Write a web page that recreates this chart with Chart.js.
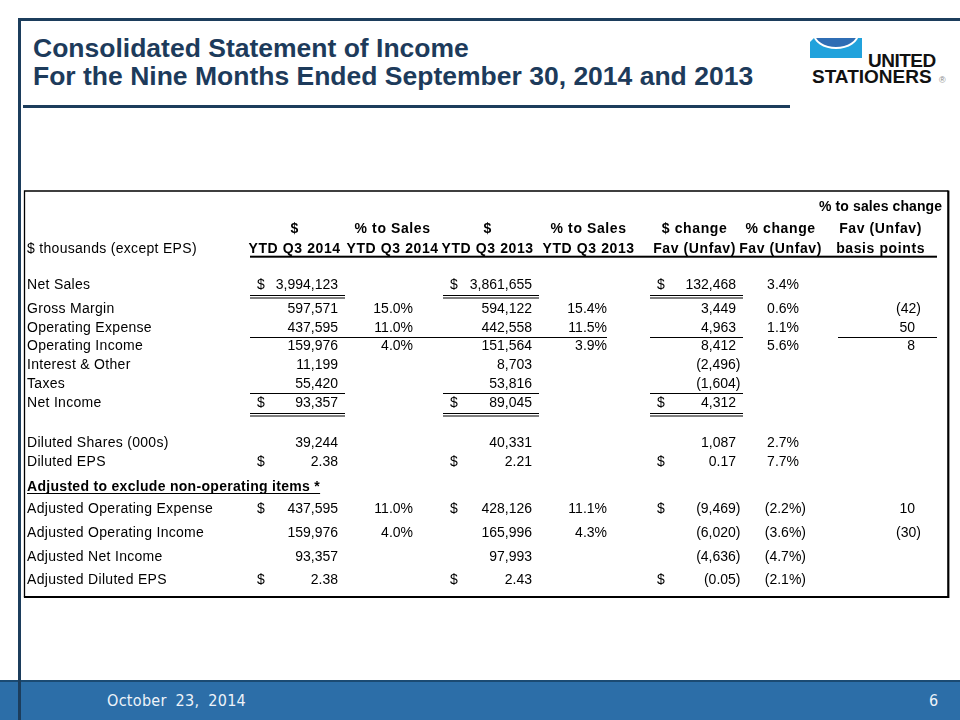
<!DOCTYPE html>
<html>
<head>
<meta charset="utf-8">
<script src="https://cdn.jsdelivr.net/npm/chart.js@4.4.1/dist/chart.umd.min.js"></script>
<style>
html,body{margin:0;padding:0;background:#fff;}
#slide{position:relative;width:960px;height:720px;overflow:hidden;background:#fff;font-family:"Liberation Sans",Arial,sans-serif;}
.navy{position:absolute;background:#1c3d5c;}
#title{position:absolute;left:33px;top:34px;font-weight:bold;font-size:26.5px;line-height:28px;color:#1d3b5b;white-space:nowrap;}
#footer{position:absolute;left:0;top:680px;width:960px;height:40px;background:#2c6ea8;border-top:2px solid #1b4a72;box-sizing:border-box;}
.ftxt{position:absolute;top:693px;font-family:"Liberation Sans Narrow","DejaVu Sans Condensed",sans-serif;font-stretch:condensed;font-size:16px;line-height:16px;color:#eef3f9;white-space:nowrap;}
.cy{position:absolute;left:810px;top:38px;width:52px;height:20px;background:#21a2dc;overflow:hidden;clip-path:polygon(4px 0,100% 0,100% 100%,0 100%,0 4px);}
.bowl{position:absolute;left:3px;top:-20px;width:42px;height:27px;border:2px solid #fff;border-radius:50%;background:#2f6db4;}
.logotxt{position:absolute;font-weight:bold;font-size:19px;line-height:19px;color:#111;white-space:nowrap;}
#cv{position:absolute;left:0;top:0;width:960px;height:720px;}
</style>
</head>
<body>
<div id="slide">
  <div class="navy" style="left:18px;top:18px;width:942px;height:3px;"></div>
  <div class="navy" style="left:23px;top:105px;width:767px;height:3px;"></div>
  <div id="title">Consolidated Statement of Income<br>For the Nine Months Ended September 30, 2014 and 2013</div>
  <div class="cy"><div class="bowl"></div></div>
  <div class="logotxt" style="left:868px;top:51px;letter-spacing:-0.5px;">UNITED</div>
  <div class="logotxt" style="left:812px;top:67px;">STATIONERS</div>
  <div class="logotxt" style="left:939px;top:76px;font-size:9px;line-height:9px;color:#888;font-weight:normal;">&reg;</div>
  <div id="footer"></div>
  <div class="ftxt" style="left:107px;letter-spacing:0.3px;word-spacing:4px;">October 23, 2014</div>
  <div class="ftxt" style="left:929px;">6</div>
  <div class="navy" style="left:18px;top:18px;width:3px;height:702px;"></div>
  <canvas id="cv" width="960" height="720"></canvas>
</div>
<script>
// ---------- DATA ----------
const colKeys = ['c1', 'c2', 'c3', 'c4', 'c5', 'c6', 'c7'];
const headerTop = ['', '', '', '', '', '', '% to sales change'];
const headerMid = ['$', '% to Sales', '$', '% to Sales', '$ change', '% change', 'Fav (Unfav)'];
const headerLow = ['YTD Q3 2014', 'YTD Q3 2014', 'YTD Q3 2013', 'YTD Q3 2013', 'Fav (Unfav)', 'Fav (Unfav)', 'basis points'];
const unitsLabel = '$ thousands (except EPS)';
const rowLabels = ['Net Sales', 'Gross Margin', 'Operating Expense', 'Operating Income', 'Interest & Other', 'Taxes', 'Net Income',
  'Diluted Shares (000s)', 'Diluted EPS',
  'Adjusted Operating Expense', 'Adjusted Operating Income', 'Adjusted Net Income', 'Adjusted Diluted EPS'];
const sectionTitle = 'Adjusted to exclude non-operating items *';
const ytd2014 = [3994123, 597571, 437595, 159976, 11199, 55420, 93357, 39244, 2.38, 437595, 159976, 93357, 2.38];
const pctSales2014 = [null, 15.0, 11.0, 4.0, null, null, null, null, null, 11.0, 4.0, null, null];
const ytd2013 = [3861655, 594122, 442558, 151564, 8703, 53816, 89045, 40331, 2.21, 428126, 165996, 97993, 2.43];
const pctSales2013 = [null, 15.4, 11.5, 3.9, null, null, null, null, null, 11.1, 4.3, null, null];
const dollarChange = [132468, 3449, 4963, 8412, -2496, -1604, 4312, 1087, 0.17, -9469, -6020, -4636, -0.05];
const pctChange = [3.4, 0.6, 1.1, 5.6, null, null, null, 2.7, 7.7, -2.2, -3.6, -4.7, -2.1];
const bpsChange = [null, -42, 50, 8, null, null, null, null, null, 10, -30, null, null];
const dollarSignRows = ['Net Sales', 'Net Income', 'Diluted EPS', 'Adjusted Operating Expense', 'Adjusted Diluted EPS'];
const perShareRows = ['Diluted EPS', 'Adjusted Diluted EPS'];
const columnKinds = ['usd', 'pct', 'usd', 'pct', 'usd', 'pct', 'bps'];
const series = [ytd2014, pctSales2014, ytd2013, pctSales2013, dollarChange, pctChange, bpsChange];

// ---------- STYLE / LAYOUT ----------
const STYLE = {
  font: '"Liberation Sans", Arial, sans-serif',
  pad: {left: 245.6, right: 28.4, top: 192, bottom: 122},
  rowPitch: [14, 22, 20, 18, 18, 23.5, 19, 18.5, 19, 19, 19, 20, 20, 19, 24.5, 22.5, 24, 23.5, 23.5],
  rowTail: 19,
  headerGrid: [0, 1, 2],
  headerSpacing: ['0.1px', '0.6px', '0.6px'],
  rowGrid: [4, 5, 6, 7, 8, 9, 10, 12, 13, 15, 16, 17, 18],
  sectionGrid: 14,
  colNudge: [0, 0, -3, 0, 8, -4, -2],
  valueRight: [43.4, 20.4, 44.4, 18.4, 41.4, 18.4, 34.4],
  parenShift: [4.5, 7, 4.5, 7, 4.5, 7, 6],
  dollarLeft: -37.6,
  colBounds: [[-44.6, 50.4], [-44.6, 50.4], [-44.6, 51.4], [-44.6, 18.4], [-44.6, 48.4], [-44.6, 50], [-42.6, 56.4]],
  labelX: 27,
  frame: {l: 24.5, t: 191, r: 948.3, b: 597},
  rules: [
    {grid: 2, spans: [[0, 6]], off: 8.7, w: 2},
    {grid: 4, spans: [[0, 0], [2, 2], [4, 4]], off: 10.5, dbl: true},
    {grid: 6, spans: [[0, 3], [4, 4], [6, 6]], off: 10.7},
    {grid: 9, spans: [[0, 0], [2, 2], [4, 4]], off: 10.3},
    {grid: 10, spans: [[0, 0], [2, 2], [4, 4]], off: 10.7, dbl: true}
  ]
};
const gridPos = [];
STYLE.rowPitch.reduce((acc, p) => { const v = acc + p; gridPos.push(v); return v; }, 0);
const yMax = gridPos[gridPos.length - 1] + STYLE.rowTail;

function fmtNum(v, dec) {
  const s = Math.abs(v).toLocaleString('en-US', {minimumFractionDigits: dec, maximumFractionDigits: dec});
  return v < 0 ? '(' + s + ')' : s;
}
function fmtPct(v) {
  const s = Math.abs(v).toFixed(1) + '%';
  return v < 0 ? '(' + s + ')' : s;
}

const datasets = series.map((vals, c) => ({
  label: colKeys[c],
  data: vals.map((v, r) => v == null ? null : {x: colKeys[c], y: gridPos[STYLE.rowGrid[r]], r: r}).filter(p => p),
  pointRadius: 0,
  showLine: false
}));

function setSpacing(ctx, s) { if ('letterSpacing' in ctx) ctx.letterSpacing = s; }

const tablePlugin = {
  id: 'tableCells',
  afterDatasetsDraw(chart) {
    const ctx = chart.ctx, xs = chart.scales.x, ys = chart.scales.y;
    const anchor = c => xs.getPixelForValue(c) + STYLE.colNudge[c];
    const rowY = g => ys.getPixelForValue(gridPos[g]);
    ctx.save();
    ctx.fillStyle = '#000';
    ctx.textBaseline = 'alphabetic';

    // frame
    const f = STYLE.frame;
    ctx.strokeStyle = '#000';
    ctx.lineWidth = 1.3;
    ctx.beginPath();
    ctx.moveTo(f.l, f.b); ctx.lineTo(f.l, f.t); ctx.lineTo(f.r, f.t);
    ctx.stroke();
    ctx.lineWidth = 2.2;
    ctx.beginPath();
    ctx.moveTo(f.r, f.t - 0.6); ctx.lineTo(f.r, f.b); ctx.lineTo(f.l - 0.6, f.b);
    ctx.stroke();

    // headers
    ctx.font = 'bold 14px ' + STYLE.font;
    ctx.textAlign = 'center';
    [headerTop, headerMid, headerLow].forEach((row, k) => {
      setSpacing(ctx, STYLE.headerSpacing[k]);
      const y = rowY(STYLE.headerGrid[k]) + 5;
      row.forEach((t, c) => { if (t) ctx.fillText(t, anchor(c), y); });
    });
    ctx.font = '14px ' + STYLE.font;
    setSpacing(ctx, '0.3px');
    ctx.textAlign = 'left';
    ctx.fillText(unitsLabel, STYLE.labelX, rowY(STYLE.headerGrid[2]) + 5);

    // row labels
    rowLabels.forEach((t, r) => ctx.fillText(t, STYLE.labelX, rowY(STYLE.rowGrid[r]) + 5));

    // section title (bold underlined)
    ctx.font = 'bold 14px ' + STYLE.font;
    const sy = rowY(STYLE.sectionGrid);
    ctx.fillText(sectionTitle, STYLE.labelX, sy + 5);
    const sw = ctx.measureText(sectionTitle).width;
    ctx.fillRect(STYLE.labelX, Math.round(sy + 7), sw, 1);

    // cells
    ctx.font = '14px ' + STYLE.font;
    setSpacing(ctx, '0px');
    chart.data.datasets.forEach((ds, c) => {
      const meta = chart.getDatasetMeta(c);
      const kind = columnKinds[c];
      meta.data.forEach((el, j) => {
        const p = ds.data[j];
        const v = series[c][p.r];
        const name = rowLabels[p.r];
        let txt;
        if (kind === 'usd') txt = fmtNum(v, perShareRows.includes(name) ? 2 : 0);
        else if (kind === 'pct') txt = fmtPct(v);
        else txt = fmtNum(v, 0);
        const ax = el.x + STYLE.colNudge[c];
        const y = el.y + 5;
        ctx.textAlign = 'right';
        ctx.fillText(txt, ax + STYLE.valueRight[c] + (v < 0 ? STYLE.parenShift[c] : 0), y);
        if (kind === 'usd' && dollarSignRows.includes(name)) {
          ctx.textAlign = 'left';
          ctx.fillText('$', ax + STYLE.dollarLeft, y);
        }
      });
    });

    // rules
    STYLE.rules.forEach(rule => {
      const y0 = rowY(rule.grid) + rule.off;
      rule.spans.forEach(([a, b]) => {
        const x0 = anchor(a) + STYLE.colBounds[a][0];
        const x1 = anchor(b) + STYLE.colBounds[b][1];
        if (rule.w) {
          ctx.fillRect(x0, y0 - rule.w / 2, x1 - x0, rule.w);
        } else {
          ctx.fillRect(x0, Math.round(y0), x1 - x0, 1);
          if (rule.dbl) ctx.fillRect(x0, Math.round(y0) + 2.5, x1 - x0, 1);
        }
      });
    });
    ctx.restore();
  }
};

new Chart(document.getElementById('cv'), {
  type: 'scatter',
  data: {labels: colKeys, datasets: datasets},
  options: {
    responsive: false,
    animation: false,
    devicePixelRatio: 1,
    events: [],
    layout: {padding: STYLE.pad},
    plugins: {legend: {display: false}, tooltip: {enabled: false}, title: {display: false}},
    elements: {point: {radius: 0}},
    scales: {
      x: {type: 'category', labels: colKeys, offset: true, display: false},
      y: {type: 'linear', min: 0, max: yMax, reverse: true, display: false}
    }
  },
  plugins: [tablePlugin]
});
</script>
</body>
</html>
